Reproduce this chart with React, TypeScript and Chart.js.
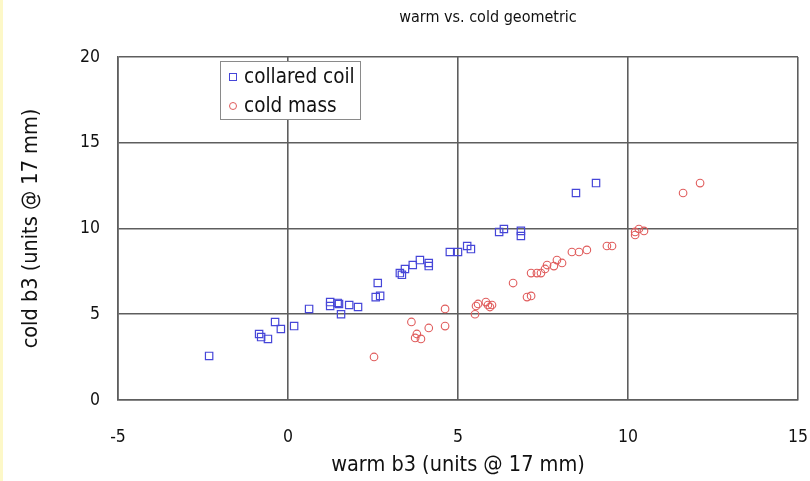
import React, { useEffect, useRef } from "react";
import { Chart, registerables } from "chart.js";

Chart.register(...registerables);

const titleText = "warm vs. cold geometric";
const xAxisTitle = "warm b3 (units @ 17 mm)";
const yAxisTitle = "cold b3 (units @ 17 mm)";
const xTicks = [-5, 0, 5, 10, 15];
const yTicks = [0, 5, 10, 15, 20];

const seriesNames = ["collared coil", "cold mass"];

const collaredX = [-2.32, -0.85, -0.79, -0.59, -0.38, -0.21, 0.18, 0.62, 1.24, 1.24, 1.46, 1.5, 1.56, 1.8, 2.06, 2.58, 2.71, 2.64, 3.29, 3.35, 3.44, 3.67, 3.88, 4.14, 4.14, 4.76, 5.0, 5.27, 5.38, 6.21, 6.35, 6.85, 6.85, 8.47, 9.06];
const collaredY = [2.57, 3.85, 3.67, 3.56, 4.55, 4.14, 4.31, 5.31, 5.71, 5.48, 5.66, 5.6, 5.0, 5.54, 5.42, 6.0, 6.07, 6.82, 7.4, 7.3, 7.64, 7.87, 8.16, 7.99, 7.81, 8.63, 8.63, 8.98, 8.8, 9.8, 9.97, 9.86, 9.56, 12.07, 12.65];

const coldMassX = [2.53, 3.63, 3.79, 3.74, 3.91, 4.14, 4.62, 4.62, 5.5, 5.53, 5.59, 5.82, 5.88, 5.94, 6.0, 6.62, 7.03, 7.15, 7.15, 7.32, 7.44, 7.56, 7.62, 7.82, 7.91, 8.06, 8.35, 8.56, 8.79, 9.38, 9.53, 10.21, 10.21, 10.32, 10.47, 11.62, 12.12];
const coldMassY = [2.51, 4.55, 3.85, 3.62, 3.56, 4.2, 5.31, 4.31, 5.0, 5.48, 5.6, 5.71, 5.54, 5.42, 5.54, 6.82, 6.0, 6.07, 7.4, 7.4, 7.4, 7.64, 7.87, 7.81, 8.16, 7.99, 8.63, 8.63, 8.75, 8.98, 8.98, 9.62, 9.8, 9.97, 9.86, 12.07, 12.65];

const BLUE = "#4646d8";
const RED = "#e05c5c";
const GRID = "#5e5e5e";
const FONT = "'DejaVu Sans Condensed', 'DejaVu Sans', Verdana, sans-serif";

const toPoints = (xs: number[], ys: number[]) => xs.map((x, i) => ({ x, y: ys[i] }));

const overlayPlugin = {
  id: "overlay",
  afterDraw(chart: any) {
    const { ctx, chartArea } = chart;
    ctx.save();
    // title
    ctx.font = `16px ${FONT}`;
    ctx.fillStyle = "#111";
    ctx.textAlign = "center";
    ctx.textBaseline = "middle";
    ctx.fillText(titleText, chartArea.left + 370, 18);

    // legend box
    const bx = chartArea.left + 102;
    const by = chartArea.top + 4;
    const bw = 140;
    const bh = 58;
    ctx.fillStyle = "#ffffff";
    ctx.fillRect(bx, by, bw, bh);
    ctx.strokeStyle = "#8a8a8a";
    ctx.lineWidth = 1;
    ctx.strokeRect(bx + 0.5, by + 0.5, bw, bh);

    ctx.font = `20.5px ${FONT}`;
    ctx.textAlign = "left";
    ctx.fillStyle = "#111";
    const rows = chart.data.datasets;
    rows.forEach((ds: any, i: number) => {
      const cy = by + 16 + i * 29;
      const mx = bx + 13;
      ctx.strokeStyle = ds.borderColor;
      ctx.lineWidth = 1;
      if (ds.pointStyle === "rect") {
        ctx.strokeRect(mx - 3.5, cy - 3.5, 7, 7);
      } else {
        ctx.beginPath();
        ctx.arc(mx, cy, 3.5, 0, Math.PI * 2);
        ctx.stroke();
      }
      ctx.fillStyle = "#111";
      ctx.fillText(ds.label, bx + 24, cy + 1);
    });
    ctx.restore();
  },
};

export default function App() {
  const ref = useRef<HTMLCanvasElement | null>(null);

  useEffect(() => {
    if (!ref.current) return;
    const chart = new Chart(ref.current, {
      type: "scatter",
      data: {
        datasets: [
          {
            label: seriesNames[0],
            data: toPoints(collaredX, collaredY),
            pointStyle: "rect",
            pointRadius: 5.2,
            borderColor: BLUE,
            backgroundColor: "rgba(255,255,255,0)",
            borderWidth: 1.2,
          },
          {
            label: seriesNames[1],
            data: toPoints(coldMassX, coldMassY),
            pointStyle: "circle",
            pointRadius: 3.8,
            borderColor: RED,
            backgroundColor: "rgba(255,255,255,0)",
            borderWidth: 1.1,
          },
        ],
      },
      options: {
        responsive: false,
        animation: false,
        devicePixelRatio: 1,
        layout: { padding: { top: 57, right: 12, bottom: 0, left: 0 } },
        plugins: {
          legend: { display: false },
          title: { display: false },
          tooltip: { enabled: false },
        },
        scales: {
          x: {
            type: "linear",
            min: -5,
            max: 15,
            afterBuildTicks: (scale: any) => {
              scale.ticks = xTicks.map((v) => ({ value: v }));
            },
            afterFit: (scale: any) => {
              scale.height = 81;
              scale.paddingLeft = 0;
              scale.paddingRight = 0;
            },
            ticks: { font: { family: FONT, size: 17.5 }, color: "#111", padding: 27, maxRotation: 0 },
            grid: { color: GRID, lineWidth: 1.6, drawTicks: false },
            border: { color: GRID, width: 1.6 },
            title: {
              display: true,
              text: xAxisTitle,
              font: { family: FONT, size: 21.5 },
              color: "#111",
              padding: { top: 0, bottom: 3 },
            },
          },
          y: {
            type: "linear",
            min: 0,
            max: 20,
            afterBuildTicks: (scale: any) => {
              scale.ticks = yTicks.map((v) => ({ value: v }));
            },
            afterFit: (scale: any) => {
              scale.width = 118;
              scale.paddingTop = 0;
              scale.paddingBottom = 0;
            },
            ticks: { font: { family: FONT, size: 17.5 }, color: "#111", padding: 18 },
            grid: { color: GRID, lineWidth: 1.6, drawTicks: false },
            border: { color: GRID, width: 1.6 },
            title: {
              display: true,
              text: yAxisTitle,
              font: { family: FONT, size: 21.5 },
              color: "#111",
              padding: { top: 19, bottom: 0 },
            },
          },
        },
      },
      plugins: [overlayPlugin],
    });
    return () => chart.destroy();
  }, []);

  return (
    <div style={{ position: "fixed", left: 0, top: 0, width: 810, height: 481, background: "#fff" }}>
      <canvas ref={ref} width={810} height={481} style={{ display: "block" }} />
      <div style={{ position: "absolute", left: 0, top: 0, width: 3, height: 481, background: "#fdf8c8" }} />
    </div>
  );
}
